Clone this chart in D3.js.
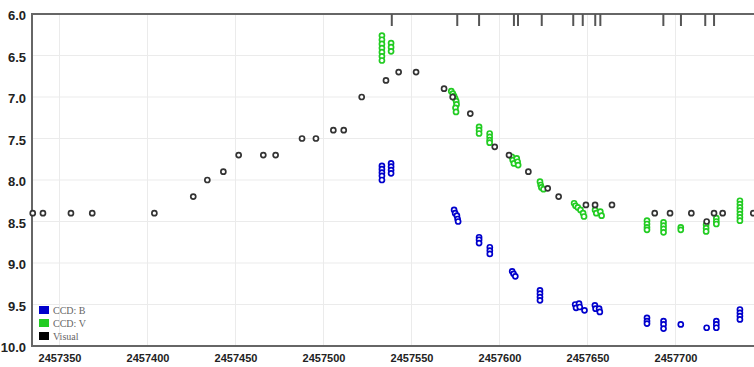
<!DOCTYPE html>
<html>
<head>
<meta charset="utf-8">
<script src="https://cdn.jsdelivr.net/npm/d3@7"></script>
<style>
  html, body { margin: 0; padding: 0; background: #fff; }
  svg { display: block; }
</style>
</head>
<body>
<svg id="chart" width="754" height="367"></svg>
<script>
// Light curve: Julian Date vs magnitude (brighter at the top)
const visJD = [2457334.8, 2457340.6, 2457356.5, 2457368.6, 2457403.9, 2457426.0, 2457434.0, 2457443.1,
  2457451.8, 2457465.8, 2457472.8, 2457487.8, 2457495.7, 2457505.6, 2457511.5, 2457521.7, 2457535.5,
  2457542.7, 2457552.6, 2457568.5, 2457573.4, 2457583.4, 2457597.3, 2457605.4, 2457616.4, 2457627.4,
  2457633.6, 2457649.1, 2457654.3, 2457663.9, 2457688.2, 2457696.9, 2457709.0, 2457717.7, 2457721.9,
  2457726.8, 2457744.2];
const visMag = [8.4, 8.4, 8.4, 8.4, 8.4, 8.2, 8.0, 7.9, 7.7, 7.7, 7.7, 7.5, 7.5, 7.4, 7.4, 7.0, 6.8,
  6.7, 6.7, 6.9, 7.0, 7.2, 7.6, 7.7, 7.9, 8.1, 8.2, 8.3, 8.3, 8.3, 8.4, 8.4, 8.4, 8.5, 8.4, 8.4, 8.4];

const vJD = [2457533.2, 2457533.2, 2457533.2, 2457533.2, 2457533.2, 2457533.2, 2457533.2,
  2457538.4, 2457538.4, 2457538.4,
  2457572.6, 2457573.5, 2457574.2, 2457574.8, 2457575.4, 2457575.6, 2457575.0, 2457575.3,
  2457588.4, 2457588.4, 2457588.4,
  2457594.4, 2457594.4, 2457594.4, 2457594.4,
  2457607.0, 2457607.5, 2457608.2, 2457609.8, 2457610.3, 2457610.6,
  2457623.0, 2457623.4, 2457623.8, 2457625.0,
  2457642.4, 2457643.2, 2457644.5, 2457646.0, 2457647.5, 2457648.0,
  2457654.3, 2457655.0, 2457657.3, 2457658.0,
  2457683.8, 2457683.8, 2457683.8, 2457683.8,
  2457693.2, 2457693.2, 2457693.2, 2457693.2,
  2457703.0, 2457703.0,
  2457717.4, 2457717.4, 2457717.4,
  2457723.2, 2457723.2, 2457723.2,
  2457736.6, 2457736.6, 2457736.6, 2457736.6, 2457736.6, 2457736.6, 2457736.6];
const vMag = [6.26, 6.31, 6.36, 6.41, 6.46, 6.51, 6.56,
  6.35, 6.40, 6.45,
  6.93, 6.96, 6.99, 7.02, 7.05, 7.09, 7.13, 7.18,
  7.36, 7.40, 7.44,
  7.44, 7.48, 7.52, 7.55,
  7.72, 7.76, 7.80, 7.74, 7.78, 7.82,
  8.02, 8.06, 8.09, 8.11,
  8.28, 8.31, 8.33, 8.36, 8.40, 8.44,
  8.36, 8.40, 8.38, 8.43,
  8.49, 8.53, 8.57, 8.60,
  8.51, 8.55, 8.59, 8.63,
  8.57, 8.60,
  8.54, 8.58, 8.62,
  8.46, 8.50, 8.53,
  8.25, 8.29, 8.33, 8.37, 8.41, 8.45, 8.49];

const bJD = [2457533.2, 2457533.2, 2457533.2, 2457533.2, 2457533.2,
  2457538.4, 2457538.4, 2457538.4, 2457538.4,
  2457574.2, 2457574.8, 2457575.8, 2457576.2, 2457576.5,
  2457588.4, 2457588.4, 2457588.4,
  2457594.5, 2457594.5, 2457594.5,
  2457607.2, 2457608.0, 2457609.0,
  2457623.0, 2457623.0, 2457623.0, 2457623.0,
  2457643.0, 2457643.5, 2457645.2, 2457645.6, 2457648.3,
  2457654.2, 2457654.6, 2457656.6, 2457657.0,
  2457683.8, 2457683.8, 2457683.8,
  2457693.2, 2457693.2, 2457693.2,
  2457703.0,
  2457717.7,
  2457723.2, 2457723.2, 2457723.2,
  2457736.6, 2457736.6, 2457736.6, 2457736.6];
const bMag = [7.83, 7.87, 7.91, 7.95, 8.00,
  7.80, 7.84, 7.88, 7.92,
  8.36, 8.40, 8.43, 8.47, 8.50,
  8.69, 8.72, 8.76,
  8.81, 8.85, 8.89,
  9.10, 9.13, 9.16,
  9.33, 9.37, 9.41, 9.45,
  9.50, 9.54, 9.49, 9.53, 9.57,
  9.51, 9.55, 9.55, 9.59,
  9.66, 9.70, 9.73,
  9.70, 9.74, 9.79,
  9.74,
  9.78,
  9.70, 9.74, 9.78,
  9.56, 9.60, 9.64, 9.68];

// Dates marked along the top edge
const markJD = [2457538.8, 2457576.0, 2457588.4, 2457608.2, 2457610.5, 2457624.0, 2457641.9,
  2457647.3, 2457654.4, 2457657.3, 2457693.1, 2457703.1, 2457716.9, 2457721.9];

const xTicks = [2457350, 2457400, 2457450, 2457500, 2457550, 2457600, 2457650, 2457700];
const yTicks = [6.0, 6.5, 7.0, 7.5, 8.0, 8.5, 9.0, 9.5, 10.0];

const legendNames = ["CCD: B", "CCD: V", "Visual"];
const legendColors = ["#0000cc", "#22cc22", "#000000"];

const plotL = 32, plotT = 14, plotB = 346, plotR = 760;
const svg = d3.select("#chart");

const x = d3.scaleLinear()
  .domain([2457350 - 27.5 / 1.76, 2457350 + (plotR - 59.5) / 1.76])
  .range([plotL, plotR]);
const y = d3.scaleLinear().domain([6, 10]).range([plotT, plotB]);

// grid
const grid = svg.append("g");
grid.selectAll("line.h").data(yTicks.slice(1, -1)).join("line")
  .attr("x1", plotL).attr("x2", plotR)
  .attr("y1", d => y(d)).attr("y2", d => y(d))
  .attr("stroke", "#ebebeb").attr("stroke-width", 1);
grid.selectAll("line.v").data(xTicks).join("line")
  .attr("y1", plotT).attr("y2", plotB)
  .attr("x1", d => x(d)).attr("x2", d => x(d))
  .attr("stroke", "#ebebeb").attr("stroke-width", 1);

// axes
const yAxis = d3.axisLeft(y).tickValues(yTicks).tickSize(0).tickPadding(6)
  .tickFormat(d3.format(".1f"));
const gy = svg.append("g").attr("transform", `translate(${plotL},0)`).call(yAxis);
gy.select(".domain").remove();
gy.selectAll("text")
  .attr("font-family", "Liberation Sans, Arial, sans-serif")
  .attr("font-size", 13).attr("font-weight", "bold").attr("fill", "#222")
  .attr("dy", "0.45em");

const xAxis = d3.axisBottom(x).tickValues(xTicks).tickSize(0).tickPadding(8)
  .tickFormat(d3.format("d"));
const gx = svg.append("g").attr("transform", `translate(0,${plotB})`).call(xAxis);
gx.select(".domain").remove();
gx.selectAll("text")
  .attr("font-family", "Liberation Sans, Arial, sans-serif")
  .attr("font-size", 11).attr("font-weight", "bold").attr("fill", "#222");

// frame
const frame = svg.append("g").attr("stroke", "#666").attr("stroke-width", 2);
frame.append("line").attr("x1", plotL).attr("x2", plotR).attr("y1", plotT).attr("y2", plotT);
frame.append("line").attr("x1", plotL).attr("x2", plotR).attr("y1", plotB).attr("y2", plotB);
frame.append("line").attr("x1", plotL).attr("x2", plotL).attr("y1", plotT - 1).attr("y2", plotB + 1);

// top date marks
svg.append("g").selectAll("line").data(markJD).join("line")
  .attr("x1", d => x(d)).attr("x2", d => x(d))
  .attr("y1", plotT).attr("y2", plotT + 12)
  .attr("stroke", "#555").attr("stroke-width", 2);

// data
svg.append("clipPath").attr("id", "plot")
  .append("rect").attr("x", plotL - 4).attr("y", plotT).attr("width", plotR - plotL + 4).attr("height", plotB - plotT);
const pts = svg.append("g").attr("clip-path", "url(#plot)");

function series(jd, mag, color, fill) {
  pts.append("g").selectAll("circle").data(jd.map((d, i) => [d, mag[i]])).join("circle")
    .attr("cx", d => x(d[0])).attr("cy", d => y(d[1])).attr("r", 2.5)
    .attr("fill", fill).attr("stroke", color).attr("stroke-width", 1.7);
}
series(vJD, vMag, "#22cc22", "#ffffff");
series(bJD, bMag, "#0000cc", "#ffffff");
series(visJD, visMag, "#333333", "#ffffff");

// legend
const leg = svg.append("g").attr("transform", "translate(39,306)");
legendNames.forEach((name, i) => {
  leg.append("rect").attr("x", 0).attr("y", i * 13).attr("width", 10).attr("height", 8)
    .attr("fill", legendColors[i]);
  leg.append("text").attr("x", 14).attr("y", i * 13 + 7.5).text(name)
    .attr("font-family", "Liberation Serif, Times New Roman, serif")
    .attr("font-size", 10).attr("fill", "#666");
});
</script>
</body>
</html>
